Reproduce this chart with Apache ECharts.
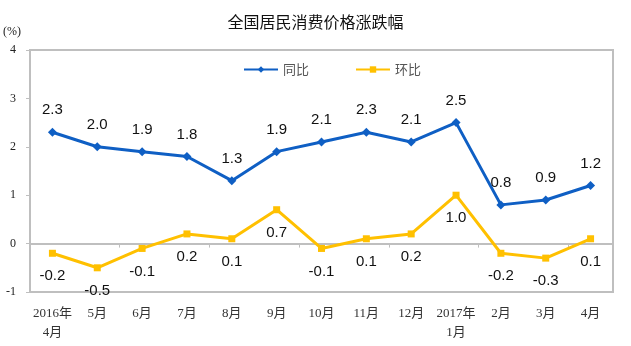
<!DOCTYPE html>
<html>
<head>
<meta charset="utf-8">
<script src="https://cdn.jsdelivr.net/npm/echarts@6/dist/echarts.min.js"></script>
<style>
  html, body { margin: 0; padding: 0; background: #fff; }
  #chart { width: 631px; height: 346px; }
</style>
</head>
<body>
<div id="chart"></div>
<script>
// Monthly CPI change, April 2016 – April 2017 (%)
const months = ['2016年\n4月', '5月', '6月', '7月', '8月', '9月', '10月', '11月', '12月', '2017年\n1月', '2月', '3月', '4月'];
const yoy = [2.3, 2.0, 1.9, 1.8, 1.3, 1.9, 2.1, 2.3, 2.1, 2.5, 0.8, 0.9, 1.2];      // 同比
const mom = [-0.2, -0.5, -0.1, 0.2, 0.1, 0.7, -0.1, 0.1, 0.2, 1.0, -0.2, -0.3, 0.1]; // 环比
const yTicks = [-1, 4, 1]; // min, max, step

const serif = '"Liberation Serif", "Noto Sans CJK SC", serif';
const sans = '"Liberation Sans", Arial, "Noto Sans CJK SC", sans-serif';
const gridGray = '#bfbfbf';

const chart = echarts.init(document.getElementById('chart'), null, { renderer: 'canvas' });

chart.setOption({
  backgroundColor: '#fff',
  animation: false,
  title: {
    text: '全国居民消费价格涨跌幅',
    left: 'center',
    top: 9,
    textStyle: { fontFamily: '"Noto Sans CJK SC", sans-serif', fontSize: 16, fontWeight: 'normal', color: '#111' }
  },
  graphic: [{
    type: 'text',
    left: 3,
    top: 26,
    style: { text: '(%)', font: '12px ' + serif, fill: '#222' }
  }],
  legend: {
    top: 58,
    left: 238,
    itemGap: 46,
    itemWidth: 34,
    itemHeight: 8,
    textStyle: { fontFamily: '"Noto Sans CJK SC", sans-serif', fontSize: 13, color: '#555' },
    data: ['同比', '环比']
  },
  grid: {
    left: 30, right: 18, top: 50, bottom: 54,
    show: true,
    borderColor: gridGray,
    borderWidth: 2
  },
  xAxis: [{
    type: 'category',
    data: months,
    position: 'bottom',
    axisLine: { show: false, onZero: false },
    axisTick: { show: false },
    axisLabel: {
      fontFamily: serif,
      fontSize: 13,
      color: '#333',
      margin: 12,
      lineHeight: 19,
      interval: 0
    }
  }, {
    type: 'category',
    data: months,
    position: 'top',
    axisLine: { show: true, onZero: true, lineStyle: { color: gridGray, width: 2 } },
    axisTick: { show: true, inside: true, length: 4, lineStyle: { color: gridGray } },
    axisLabel: { show: false }
  }],
  yAxis: {
    type: 'value',
    min: yTicks[0],
    max: yTicks[1],
    interval: yTicks[2],
    splitLine: { show: false },
    axisLine: { show: true, lineStyle: { color: gridGray, width: 2 } },
    axisTick: { show: true, length: 4, lineStyle: { color: gridGray } },
    axisLabel: { fontFamily: serif, fontSize: 12, color: '#222', margin: 14 }
  },
  series: [{
    name: '同比',
    type: 'line',
    data: yoy,
    xAxisIndex: 0,
    color: '#0f5fc4',
    symbol: 'diamond',
    symbolSize: 9,
    lineStyle: { width: 3, color: '#0f5fc4' },
    itemStyle: { color: '#0f5fc4' },
    label: {
      show: true,
      position: 'top',
      distance: 10,
      formatter: p => p.value.toFixed(1),
      fontFamily: sans,
      fontSize: 15,
      color: '#111'
    }
  }, {
    name: '环比',
    type: 'line',
    data: mom,
    xAxisIndex: 0,
    color: '#ffc000',
    symbol: 'rect',
    symbolSize: 7,
    lineStyle: { width: 3, color: '#ffc000' },
    itemStyle: { color: '#ffc000' },
    label: {
      show: true,
      position: 'bottom',
      distance: 12,
      formatter: p => p.value.toFixed(1),
      fontFamily: sans,
      fontSize: 15,
      color: '#111'
    }
  }]
});
</script>
</body>
</html>
